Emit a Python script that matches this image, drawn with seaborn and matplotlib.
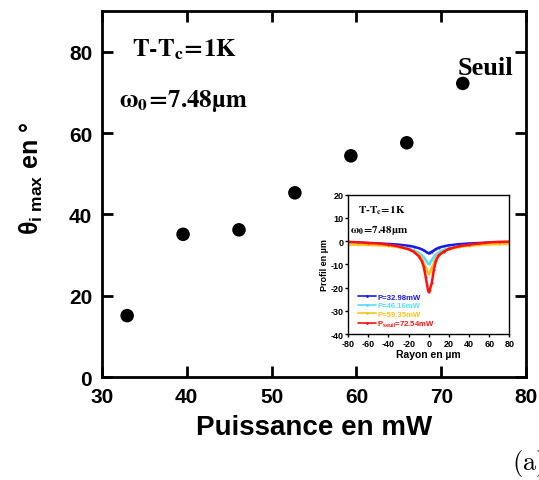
import numpy as np
import pandas as pd
import matplotlib
matplotlib.use('Agg')
import matplotlib.pyplot as plt
import seaborn as sns

# main plot: max angle vs power
puissance = [32.98, 39.57, 46.16, 52.75, 59.35, 65.94, 72.54]
theta_max = [15.1, 35.1, 36.2, 45.3, 54.4, 57.6, 72.2]

# inset: surface profiles
rayon = [-80, -70, -60, -50, -40, -30, -20, -15, -10, -7, -5, -3, -1, 0,
         1, 3, 5, 7, 10, 15, 20, 30, 40, 50, 60, 70, 80]
profil_p1 = [-0.5, -0.6, -0.8, -1.0, -1.2, -1.5, -2.0, -2.4, -3.0, -3.5, -4.0, -4.5, -5.0, -5.2,
             -5.0, -4.5, -4.0, -3.4, -2.8, -2.2, -1.8, -1.3, -1.0, -0.8, -0.6, -0.5, -0.5]
profil_p2 = [-1.0, -1.0, -1.2, -1.5, -1.8, -2.3, -3.2, -4.0, -5.0, -6.0, -7.0, -8.2, -9.5, -10.0,
             -9.5, -8.0, -6.8, -5.8, -4.8, -3.8, -3.0, -2.2, -1.7, -1.3, -1.0, -0.9, -0.8]
profil_p3 = [-1.5, -1.5, -1.6, -1.8, -2.0, -2.6, -3.5, -4.5, -5.8, -7.5, -9.5, -11.5, -13.5, -14.2,
             -13.5, -11.5, -9.5, -7.5, -5.8, -4.5, -3.5, -2.5, -2.0, -1.6, -1.4, -1.3, -1.3]
profil_p4 = [-0.3, -0.5, -0.8, -1.0, -1.5, -2.3, -3.5, -4.5, -6.5, -8.5, -11.0, -15.5, -20.5, -22.0,
             -21.0, -18.0, -12.5, -8.5, -6.0, -4.5, -3.3, -2.2, -1.5, -1.0, -0.5, -0.3, -0.2]
labels = ['P=32.98mW', 'P=46.16mW', 'P=59.35mW', r'P$_{\mathbf{seuil}}$=72.54mW']
colors = ['#1a1ae6', '#55ddff', '#ffc21a', '#ff1010']

sns.set_theme(style='ticks')
plt.rcParams['font.family'] = ['Liberation Sans', 'DejaVu Sans']
plt.rcParams['font.weight'] = 'bold'
plt.rcParams['text.color'] = 'black'
plt.rcParams['axes.labelcolor'] = 'black'
plt.rcParams['xtick.color'] = 'black'
plt.rcParams['ytick.color'] = 'black'
plt.rcParams['axes.edgecolor'] = 'black'
plt.rcParams['axes.unicode_minus'] = False
plt.rcParams['mathtext.fontset'] = 'custom'
plt.rcParams['mathtext.rm'] = 'Liberation Sans'
plt.rcParams['mathtext.it'] = 'Liberation Sans'
plt.rcParams['mathtext.bf'] = 'Liberation Sans:bold'

fig = plt.figure(figsize=(5.39, 4.81), dpi=100)
ax = fig.add_axes([0.189, 0.214, 0.787, 0.761])

sns.scatterplot(x=puissance, y=theta_max, color='black', s=95, edgecolor='none', ax=ax)
ax.set_xlim(30, 80)
ax.set_ylim(0, 90)
ax.set_xticks([30, 40, 50, 60, 70, 80])
ax.set_yticks([0, 20, 40, 60, 80])
ax.tick_params(axis='both', which='major', labelsize=15, direction='in', length=8, width=2,
               top=True, right=True, pad=7)
for lab in ax.get_xticklabels() + ax.get_yticklabels():
    lab.set_fontweight('bold')
for sp in ax.spines.values():
    sp.set_linewidth(2)
ax.set_xlabel('Puissance en mW', fontsize=20, fontweight='bold', labelpad=6)
ax.set_ylabel(r'$\theta_{\mathbf{i\ max}}$ en °', fontsize=18, fontweight='bold')
ax.yaxis.set_label_coords(-0.135, 0.546)

ax.text(0.07, 0.88, r'$\mathbf{T\text{-}T_c\!=\!1K}$', transform=ax.transAxes, fontsize=18,
        math_fontfamily='stix')
ax.text(0.04, 0.74, r'$\mathbf{ω_0\!=\!7.48µm}$', transform=ax.transAxes, fontsize=18,
        math_fontfamily='stix')
ax.text(75.2, 74.6, 'Seuil', fontsize=19, fontweight='bold', family='Liberation Serif', ha='center')

fig.text(0.95, 0.022, r'$\mathrm{(a)}$', fontsize=19, math_fontfamily='cm')

# inset
axin = fig.add_axes([0.646, 0.3035, 0.299, 0.2896])
df = pd.DataFrame({
    'rayon': rayon * 4,
    'profil': profil_p1 + profil_p2 + profil_p3 + profil_p4,
    'serie': sum([[lab] * len(rayon) for lab in labels], []),
})
sns.lineplot(data=df, x='rayon', y='profil', hue='serie', palette=dict(zip(labels, colors)),
             marker='.', markersize=3, markeredgewidth=0, linewidth=1.8, ax=axin, legend=False)
axin.set_xlim(-80, 80)
axin.set_ylim(-40, 20)
axin.set_xticks(range(-80, 81, 20))
axin.set_yticks(range(-40, 21, 10))
axin.tick_params(labelsize=6.5, length=2.5, width=1, pad=1)
for lab in axin.get_xticklabels() + axin.get_yticklabels():
    lab.set_fontweight('bold')
for sp in axin.spines.values():
    sp.set_linewidth(1)
axin.set_xlabel('Rayon en µm', fontsize=7.5, fontweight='bold', labelpad=1)
axin.set_ylabel('Profil en µm', fontsize=6.5, fontweight='bold', labelpad=1)
axin.text(-70, 12.5, r'$\mathbf{T\text{-}T_c\!=\!1K}$', fontsize=8, math_fontfamily='stix')
axin.text(-78, 4, r'$\mathbf{ω_0\!=\!7.48µm}$', fontsize=8, math_fontfamily='stix')

handles = [plt.Line2D([], [], color=c, lw=1.2, marker='.', markersize=2) for c in colors]
leg = axin.legend(handles, labels, loc='lower left', bbox_to_anchor=(0.03, 0.0), frameon=False,
                  fontsize=5.6, handlelength=2.4, handletextpad=0.1, labelspacing=0.15,
                  borderaxespad=0.2)
for txt, c in zip(leg.get_texts(), colors):
    txt.set_color(c)
    txt.set_fontweight('bold')

fig.savefig('out.png', dpi=100)
